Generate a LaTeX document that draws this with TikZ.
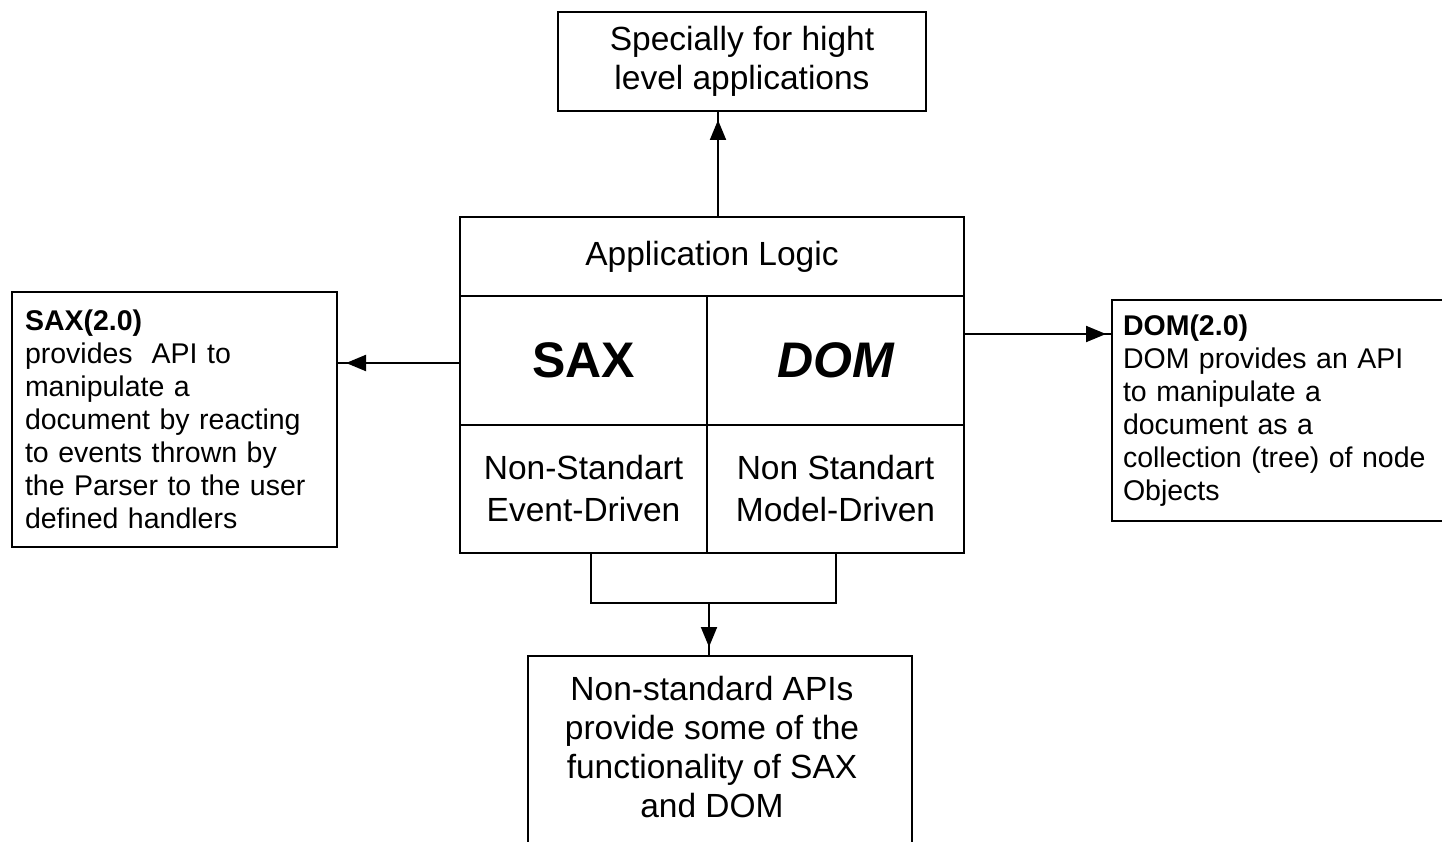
\documentclass[tikz,border=0pt]{standalone}
\usepackage{fontspec}
\setmainfont{Liberation Sans}
\usetikzlibrary{arrows.meta}

\tikzset{
  box/.style={draw, line width=2pt, inner sep=0pt, align=center},
  bigtext/.style={font={\fontsize{33.5pt}{39pt}\selectfont}},
  celltext/.style={font={\fontsize{33.5pt}{42pt}\selectfont}},
  smalltext/.style={font={\fontsize{28.5pt}{33pt}\selectfont}},
  apitext/.style={font={\fontsize{50pt}{56pt}\selectfont\bfseries}},
  wire/.style={line width=2pt},
  tip/.style={line width=2pt, -{Triangle[length=20pt,width=16pt]}}
}

\begin{document}
\begin{tikzpicture}[x=1pt,y=-1pt]
  \path[use as bounding box, clip] (0,0) rectangle (1442,842);
  \fill[white] (0,0) rectangle (1442,842);

  % top target box
  \node[box, bigtext, minimum width=368, minimum height=99] (top) at (742,61.5)
    {Specially for hight\\level applications};

  % central block: header row and two columns
  \node[box, bigtext, minimum width=504, minimum height=79] (app) at (712,256.5)
    {Application Logic};
  \node[box, apitext, minimum width=247, minimum height=129] (saxcell) at (583.5,360.5)
    {SAX};
  \node[box, apitext, minimum width=257, minimum height=129] (domcell) at (835.5,360.5)
    {\itshape DOM};
  \node[box, celltext, minimum width=247, minimum height=128] (nsax) at (583.5,489)
    {Non-Standart\\Event-Driven};
  \node[box, celltext, minimum width=257, minimum height=128] (ndom) at (835.5,489)
    {Non Standart\\Model-Driven};

  % side description boxes
  \node[box, smalltext, align=left, text width=299, inner xsep=13, minimum height=255] (saxbox) at (174.5,419.5)
    {\textbf{SAX(2.0)}\\provides\ \ API to\\manipulate a\\document by reacting\\to events thrown by\\the Parser to the user\\defined handlers};
  \node[box, smalltext, align=left, text width=318, inner xsep=11, minimum height=221] (dombox) at (1282,410.5)
    {\textbf{DOM(2.0)}\\DOM provides an API\\to manipulate a\\document as a\\collection (tree) of node\\Objects};

  % bottom box
  \node[box, minimum width=384, minimum height=200] (bot) at (720,756) {};
  \node[bigtext, align=center] (bottext) at (712,747.5)
    {Non-standard APIs\\provide some of the\\functionality of SAX\\and DOM};

  % connectors
  \coordinate (upstart) at ([xshift=6pt]app.north);
  \draw[wire] (upstart) -- (upstart |- top.south);
  \draw[tip, shorten >=8pt] (upstart) -- (upstart |- top.south);

  \coordinate (leftstart) at ([yshift=-2.5pt]saxcell.west);
  \draw[wire] (leftstart) -- (leftstart -| saxbox.east);
  \draw[tip, shorten >=8pt] (leftstart) -- (leftstart -| saxbox.east);

  \coordinate (rightstart) at ([yshift=26.5pt]domcell.east);
  \draw[wire] (rightstart) -- (rightstart -| dombox.west);
  \draw[tip, shorten >=5pt] (rightstart) -- (rightstart -| dombox.west);

  \coordinate (join) at (709,603);
  \draw[wire] ([xshift=7.5pt]nsax.south) |- (join) -| (ndom.south);
  \draw[wire] (join) -- (join |- bot.north);
  \draw[tip, shorten >=8pt] (join) -- (join |- bot.north);
\end{tikzpicture}
\end{document}
